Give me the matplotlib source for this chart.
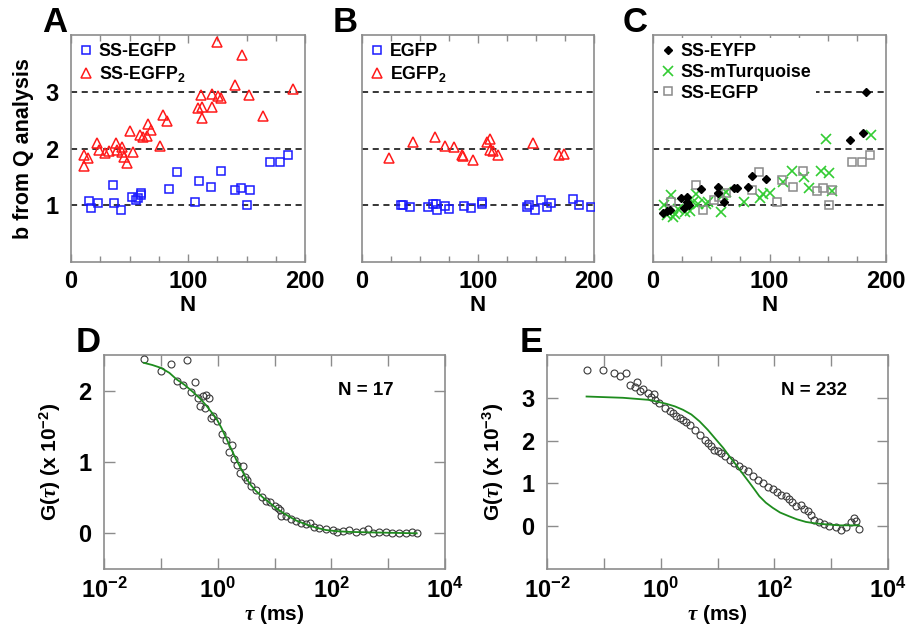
import numpy as np
import matplotlib
matplotlib.use('Agg')
import matplotlib.pyplot as plt
from matplotlib.ticker import MultipleLocator, FixedLocator, FixedFormatter, NullFormatter

plt.rcParams['font.family'] = ['Liberation Sans', 'DejaVu Sans']
plt.rcParams['font.weight'] = 'bold'
plt.rcParams['mathtext.fontset'] = 'custom'
plt.rcParams['mathtext.rm'] = 'Liberation Sans:bold'
plt.rcParams['mathtext.bf'] = 'Liberation Sans:bold'
plt.rcParams['mathtext.it'] = 'Liberation Serif:italic'
plt.rcParams['mathtext.default'] = 'bf'

# ---------------- data ----------------
# Panel A
a_egfp_N = [15.4, 16.8, 23.3, 35.6, 37.0, 42.5, 51.9, 55.6, 57.0, 59.8, 59.8, 83.8, 90.9, 105.7, 109.7,
            119.9, 128.5, 140.4, 145.0, 150.2, 152.7, 169.8, 178.6, 185.5]
a_egfp_b = [1.08, 0.95, 1.04, 1.36, 1.04, 0.91, 1.15, 1.09, 1.13, 1.22, 1.18, 1.29, 1.58, 1.06, 1.43,
            1.32, 1.60, 1.27, 1.31, 1.00, 1.27, 1.77, 1.77, 1.88]
a_egfp2_N = [125.0, 146.0, 139.9, 189.5, 111.4, 120.2, 125.4, 128.5, 151.8, 108.8, 111.7, 120.8, 112.0,
             164.4, 78.6, 81.8, 65.8, 68.1, 50.2, 59.0, 61.3, 65.2, 76.3, 22.5, 24.2, 29.1, 32.8, 38.5,
             39.1, 43.3, 43.3, 52.7, 45.0, 47.6, 11.1, 14.8, 11.1]
a_egfp2_b = [3.88, 3.65, 3.12, 3.05, 2.95, 2.96, 2.93, 2.89, 2.95, 2.72, 2.74, 2.74, 2.53,
             2.57, 2.59, 2.48, 2.44, 2.32, 2.30, 2.23, 2.20, 2.22, 2.05, 2.09, 1.98, 1.92, 1.95, 2.09,
             1.98, 2.02, 1.94, 1.94, 1.85, 1.74, 1.89, 1.83, 1.70]

# Panel B
b_egfp_N = [33.3, 35.1, 41.4, 57.2, 61.0, 63.8, 65.0, 71.6, 75.3, 88.0, 93.7, 103.2, 103.4, 141.9,
            144.3, 148.9, 154.0, 159.2, 163.2, 182.2, 186.8, 197.4]
b_egfp_b = [1.00, 1.00, 0.97, 0.97, 1.02, 1.03, 0.92, 0.98, 0.93, 0.99, 0.96, 1.06, 1.03, 0.97,
            1.01, 0.91, 1.10, 0.97, 1.04, 1.11, 1.01, 0.97]
b_egfp2_N = [23.6, 43.7, 63.2, 71.6, 79.3, 86.0, 87.4, 95.4, 107.5, 110.3, 110.3, 113.2, 117.2,
             147.7, 170.1, 174.4]
b_egfp2_b = [1.83, 2.12, 2.21, 2.05, 2.02, 1.88, 1.86, 1.79, 2.12, 2.16, 1.98, 1.95, 1.89,
             2.09, 1.88, 1.91]

# Panel C
c_eyfp_N = [8.3, 11.7, 14.5, 23.9, 26.5, 28.8, 29.6, 30.8, 41.0, 55.6, 56.1, 61.3, 69.5, 72.1, 81.2,
            85.2, 96.6, 169.0, 180.3, 182.6]
c_eyfp_b = [0.87, 0.90, 0.92, 1.12, 0.96, 1.06, 1.15, 1.00, 1.29, 1.32, 1.22, 1.05, 1.30, 1.30, 1.33,
            1.52, 1.47, 2.15, 2.28, 3.00]
c_mturq_N = [9.4, 15.1, 11.7, 17.4, 18.8, 21.7, 27.4, 31.6, 34.5, 36.8, 38.7, 45.3, 47.3, 58.7, 60.1,
             62.4, 77.8, 91.5, 94.3, 100.0, 111.4, 119.4, 130.0, 133.6, 144.2, 151.3, 153.3, 148.5, 187.4]
c_mturq_b = [1.00, 1.18, 0.82, 0.80, 0.85, 0.94, 0.88, 0.90, 1.06, 1.20, 1.03, 1.03, 1.06, 0.88, 1.18,
             1.23, 1.05, 1.12, 1.20, 1.22, 1.41, 1.60, 1.49, 1.31, 1.60, 1.57, 1.25, 2.16, 2.23]
c_egfp_N = [15.1, 36.8, 42.9, 52.1, 56.7, 63.0, 85.2, 90.9, 106.3, 110.9, 120.6, 128.5, 140.5, 145.6,
            153.6, 150.7, 170.6, 179.1, 186.0]
c_egfp_b = [1.06, 1.35, 0.91, 1.10, 1.15, 1.22, 1.27, 1.58, 1.06, 1.44, 1.32, 1.60, 1.25, 1.31,
            1.27, 1.00, 1.77, 1.77, 1.88]

# Panel D  (log10 of tau in ms, G in units of 1e-2)
d_logtau = [-1.298, -1.0, -0.825, -0.532, -0.708, -0.609, -0.404, -0.462, -0.345, -0.258, -0.199, -0.158,
            -0.304, -0.228, -0.123, -0.082, -0.005, 0.082, 0.14, 0.258, 0.193, 0.286, 0.339, 0.444, 0.398,
            0.474, 0.515, 0.591, 0.667, 0.784, 0.854, 0.924, 1.0, 1.058, 1.105, 1.117, 1.205, 1.293, 1.38,
            1.468, 1.556, 1.626, 1.702, 1.789, 1.906, 2.023, 2.094, 2.199, 2.316, 2.433, 2.55, 2.637, 2.725,
            2.842, 2.96, 3.075, 3.193, 3.31, 3.426, 3.503]
d_G = [2.44, 2.28, 2.38, 2.43, 2.14, 2.08, 2.125, 1.98, 1.90, 1.92, 1.94, 1.90,
       1.79, 1.76, 1.62, 1.65, 1.57, 1.39, 1.31, 1.24, 1.14, 1.04, 0.96, 0.94, 0.84,
       0.79, 0.75, 0.67, 0.61, 0.51, 0.46, 0.435, 0.39, 0.36, 0.33, 0.25, 0.24, 0.20, 0.17,
       0.15, 0.125, 0.15, 0.09, 0.08, 0.055, 0.046, 0.02, 0.03, 0.04, 0.02, 0.03, 0.055, 0.01,
       0.02, 0.02, 0.01, 0.01, 0.01, 0.02, 0.0]
d_fit_logtau = [-1.298, -1.15, -1.0, -0.85, -0.725, -0.58, -0.433, -0.31, -0.199, -0.11, -0.023, 0.065,
                0.153, 0.24, 0.328, 0.415, 0.503, 0.59, 0.678, 0.8, 0.912, 1.05, 1.205, 1.38, 1.556,
                1.73, 1.906, 2.1, 2.316, 2.6, 2.9, 3.2, 3.503]
d_fit_G = [2.39, 2.36, 2.32, 2.25, 2.16, 2.08, 1.98, 1.89, 1.79, 1.70, 1.61, 1.48,
           1.33, 1.18, 1.03, 0.90, 0.77, 0.67, 0.59, 0.50, 0.43, 0.34, 0.26, 0.18, 0.125,
           0.08, 0.046, 0.03, 0.02, 0.015, 0.01, 0.005, 0.0]

# Panel E  (log10 of tau in ms, G in units of 1e-3)
e_logtau = [-1.304, -1.012, -0.825, -0.708, -0.614, -0.532, -0.456, -0.409, -0.357, -0.31, -0.222, -0.175,
            -0.123, -0.105, -0.03, 0.07, 0.158, 0.216, 0.275, 0.333, 0.392, 0.45, 0.509, 0.596, 0.684,
            0.772, 0.83, 0.889, 0.947, 1.005, 1.064, 1.14, 1.222, 1.298, 1.386, 1.456, 1.532, 1.62, 1.708,
            1.795, 1.883, 1.971, 2.041, 2.117, 2.205, 2.263, 2.31, 2.38, 2.468, 2.526, 2.584, 2.643, 2.702,
            2.789, 2.877, 2.965, 3.082, 3.17, 3.258, 3.346, 3.404, 3.433, 3.491]
e_G = [3.65, 3.65, 3.57, 3.50, 3.59, 3.30, 3.26, 3.38, 3.15, 3.20, 3.11, 3.02,
       3.09, 2.95, 2.88, 2.76, 2.68, 2.64, 2.58, 2.53, 2.47, 2.43, 2.37, 2.24, 2.14,
       2.02, 1.95, 1.87, 1.79, 1.75, 1.70, 1.63, 1.54, 1.47, 1.40, 1.34, 1.29, 1.17, 1.09,
       1.02, 0.92, 0.86, 0.80, 0.74, 0.70, 0.63, 0.57, 0.47, 0.49, 0.40, 0.36, 0.26, 0.15,
       0.10, 0.05, 0.01, -0.03, -0.09, -0.03, 0.09, 0.18, 0.12, -0.07]
e_fit_logtau = [-1.304, -0.661, -0.193, 0.1, 0.25, 0.392, 0.54, 0.684, 0.83, 0.977, 1.1, 1.211, 1.3,
                1.386, 1.475, 1.561, 1.65, 1.737, 1.85, 1.971, 2.1, 2.263, 2.4, 2.556, 2.7, 2.848,
                3.14, 3.491]
e_fit_G = [3.03, 3.0, 2.95, 2.86, 2.80, 2.72, 2.61, 2.45, 2.25, 2.02, 1.83, 1.63, 1.48,
           1.33, 1.17, 1.02, 0.86, 0.70, 0.55, 0.43, 0.32, 0.23, 0.16, 0.10, 0.07, 0.05,
           0.02, 0.02]

# ---------------- figure ----------------
W, H = 909, 631
fig = plt.figure(figsize=(W / 100, H / 100), dpi=100)

def rect(l, r, t, b):
    return [l / W, 1 - b / H, (r - l) / W, (b - t) / H]

SPINE = '#8c8c8c'
BLUE = '#1a1aff'
RED = '#ff1a1a'
GREEN = '#33cc33'
GRAY = '#8a8a8a'
FITG = '#1e8c1e'

def style_top(ax, ylabel=False):
    ax.set_xlim(0, 200)
    ax.set_ylim(0, 4)
    for s in ax.spines.values():
        s.set_color(SPINE)
        s.set_linewidth(1.2)
    ax.xaxis.set_major_locator(FixedLocator([0, 100, 200]))
    ax.xaxis.set_minor_locator(MultipleLocator(25))
    ax.tick_params(axis='x', which='both', direction='in', top=True, bottom=True,
                   color=SPINE, width=1.0, labelsize=17, pad=6)
    ax.tick_params(axis='x', which='major', length=6)
    ax.tick_params(axis='x', which='minor', length=4)
    ax.set_yticks([1, 2, 3])
    ax.tick_params(axis='y', which='both', length=0, pad=9, labelsize=17)
    if not ylabel:
        ax.set_yticklabels([])
    for yv in (1, 2, 3):
        ax.axhline(yv, color='black', lw=1.1, ls=(0, (4, 3)), zorder=1)
    ax.set_xlabel('N', fontsize=16, fontweight='bold', labelpad=1)

msq = dict(marker='s', ls='none', mfc='none', ms=5.8, mew=1.1)
mtri = dict(marker='^', ls='none', mfc='none', ms=7.2, mew=1.1)

# Panel A
axA = fig.add_axes(rect(71, 305, 35, 262))
style_top(axA, ylabel=True)
axA.plot(a_egfp_N, a_egfp_b, color=BLUE, label='SS-EGFP', zorder=3, **msq)
axA.plot(a_egfp2_N, a_egfp2_b, color=RED, label='SS-EGFP$_{2}$', zorder=3, **mtri)
axA.set_ylabel('b from Q analysis', fontsize=15.5, fontweight='bold', labelpad=8)

# Panel B
axB = fig.add_axes(rect(362, 594, 35, 262))
style_top(axB)
axB.plot(b_egfp_N, b_egfp_b, color=BLUE, label='EGFP', zorder=3, **msq)
axB.plot(b_egfp2_N, b_egfp2_b, color=RED, label='EGFP$_{2}$', zorder=3, **mtri)

# Panel C
axC = fig.add_axes(rect(653, 886, 35, 262))
style_top(axC)
axC.plot(c_eyfp_N, c_eyfp_b, color='black', marker='D', ls='none', ms=4.5, label='SS-EYFP', zorder=4)
axC.plot(c_mturq_N, c_mturq_b, color=GREEN, marker='x', ls='none', ms=6.5, mew=1.2,
         label='SS-mTurquoise', zorder=3)
axC.plot(c_egfp_N, c_egfp_b, color=GRAY, label='SS-EGFP', zorder=3, **msq)

for ax, frame in ((axA, False), (axB, False), (axC, True)):
    leg = ax.legend(loc='upper left', bbox_to_anchor=(0.02, 0.985), frameon=frame,
                    handlelength=0.7, handletextpad=0.35, labelspacing=0.22,
                    borderaxespad=0.0, borderpad=0.25, prop={'weight': 'bold', 'size': 12.8})
    if frame:
        leg.get_frame().set_facecolor('white')
        leg.get_frame().set_edgecolor('none')
        leg.get_frame().set_alpha(1)
        leg.set_zorder(5)

# Panels D and E
def style_bottom(ax, ylim, yticks):
    ax.set_xscale('log')
    ax.set_xlim(1e-2, 1e4)
    ax.set_ylim(*ylim)
    for s in ax.spines.values():
        s.set_color(SPINE)
        s.set_linewidth(1.2)
    decades = [10.0 ** k for k in range(-2, 5)]
    labels = ['$10^{-2}$', '', '$10^{0}$', '', '$10^{2}$', '', '$10^{4}$']
    ax.xaxis.set_major_locator(FixedLocator(decades))
    ax.xaxis.set_major_formatter(FixedFormatter(labels))
    ax.xaxis.set_minor_formatter(NullFormatter())
    ax.xaxis.set_minor_locator(FixedLocator([]))
    ax.set_yticks(yticks)
    ax.tick_params(axis='both', which='major', direction='in', top=True, right=True,
                   color=SPINE, width=1.0, length=8, labelsize=17)
    ax.tick_params(axis='x', pad=6)
    ax.tick_params(axis='y', pad=9)
    ax.set_xlabel(r'$\mathit{\tau}$ (ms)', fontsize=15, fontweight='bold', labelpad=0)

axD = fig.add_axes(rect(104, 445, 355, 569))
style_bottom(axD, (-0.5, 2.5), [0, 1, 2])
axD.plot([10 ** v for v in d_logtau], d_G, ls='none', marker='o', mfc='none', mec='#3a3a3a',
         ms=5, mew=0.8, zorder=3)
axD.plot([10 ** v for v in d_fit_logtau], d_fit_G, color=FITG, lw=1.3, zorder=4)
axD.text(0.768, 0.836, 'N = 17', transform=axD.transAxes, ha='center', va='center',
         fontsize=13.5, fontweight='bold')
axD.set_ylabel(r'G($\mathit{\tau}$) (x 10$^{-2}$)', fontsize=15, fontweight='bold', labelpad=11)

axE = fig.add_axes(rect(547, 888, 355, 569))
style_bottom(axE, (-1, 4), [0, 1, 2, 3])
axE.plot([10 ** v for v in e_logtau], e_G, ls='none', marker='o', mfc='none', mec='#3a3a3a',
         ms=5, mew=0.8, zorder=3)
axE.plot([10 ** v for v in e_fit_logtau], e_fit_G, color=FITG, lw=1.3, zorder=4)
axE.text(0.783, 0.836, 'N = 232', transform=axE.transAxes, ha='center', va='center',
         fontsize=13.5, fontweight='bold')
axE.set_ylabel(r'G($\mathit{\tau}$) (x 10$^{-3}$)', fontsize=15, fontweight='bold', labelpad=11)

# Panel letters
for letter, xr, yb in (('A', 67, 32), ('B', 358, 32), ('C', 648, 32), ('D', 101, 352), ('E', 543, 352)):
    fig.text(xr / W, 1 - yb / H, letter, ha='right', va='baseline', fontsize=25, fontweight='bold')

fig.savefig('out.png', dpi=100)
